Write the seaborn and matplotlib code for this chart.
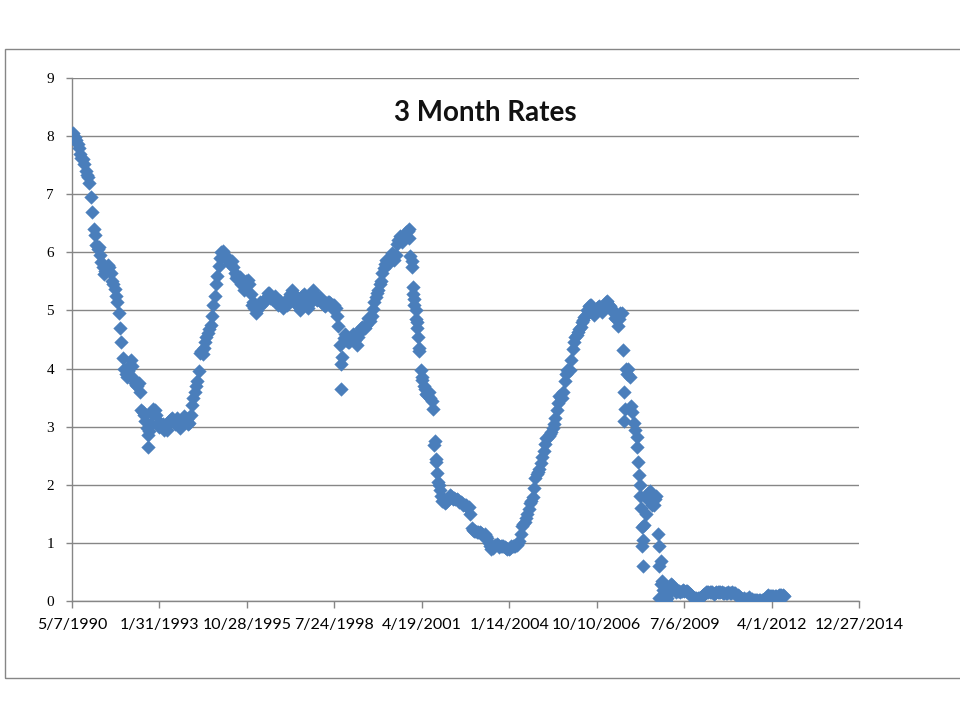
import pandas as pd
import matplotlib
matplotlib.use("Agg")
import matplotlib.pyplot as plt
import seaborn as sns

# 3 month rates, early-month readings (May 1990 - Aug 2012)
r1990 = [8.03, 7.99, 7.87, 7.69, 7.60, 7.40, 7.29, 6.95]
r1991 = [6.41, 6.12, 6.09, 5.83, 5.63, 5.75, 5.75, 5.50, 5.37, 5.14, 4.69, 4.18]
r1992 = [3.91, 3.95, 4.14, 3.84, 3.72, 3.75, 3.28, 3.20, 2.97, 2.93, 3.21, 3.29]
r1993 = [3.07, 3.07, 3.04, 2.99, 3.07, 3.14, 3.11, 3.11, 3.01, 3.09, 3.18, 3.13]
r1994 = [3.06, 3.37, 3.59, 3.78, 4.27, 4.25, 4.46, 4.61, 4.75, 5.10, 5.45, 5.76]
r1995 = [6.00, 5.96, 5.91, 5.84, 5.85, 5.64, 5.59, 5.57, 5.43, 5.44, 5.52, 5.29]
r1996 = [5.15, 4.96, 5.10, 5.09, 5.15, 5.23, 5.30, 5.19, 5.24, 5.12, 5.17, 5.04]
r1997 = [5.17, 5.14, 5.28, 5.30, 5.20, 5.07, 5.19, 5.28, 5.08, 5.11, 5.28, 5.30]
r1998 = [5.18, 5.23, 5.16, 5.08, 5.14, 5.12, 5.09, 5.04, 4.74, 4.07, 4.53, 4.50]
r1999 = [4.45, 4.56, 4.57, 4.41, 4.63, 4.72, 4.69, 4.87, 4.82, 5.02, 5.23, 5.36]
r2000 = [5.50, 5.73, 5.86, 5.82, 5.99, 5.86, 6.14, 6.28, 6.18, 6.29, 6.36, 5.94]
r2001 = [5.29, 5.01, 4.54, 3.97, 3.70, 3.57, 3.59, 3.44, 2.69, 2.20, 1.91, 1.72]
r2002 = [1.68, 1.76, 1.83, 1.75, 1.76, 1.73, 1.71, 1.65, 1.66, 1.61, 1.25, 1.21]
r2003 = [1.19, 1.19, 1.15, 1.15, 1.09, 0.94, 0.92, 0.97, 0.96, 0.94, 0.95, 0.91]
r2004 = [0.90, 0.94, 0.95, 0.96, 1.04, 1.29, 1.36, 1.50, 1.68, 1.79, 2.11, 2.22]
r2005 = [2.37, 2.58, 2.80, 2.84, 2.90, 3.04, 3.29, 3.52, 3.49, 3.79, 3.97, 3.97]
r2006 = [4.34, 4.54, 4.63, 4.72, 4.84, 4.92, 5.08, 5.09, 4.93, 5.05, 5.07, 4.97]
r2007 = [5.11, 5.16, 5.08, 5.01, 4.87, 4.74, 4.96, 4.32, 3.99, 4.00, 3.35, 3.07]
r2008 = [2.82, 2.17, 1.28, 1.31, 1.76, 1.89, 1.66, 1.75, 1.15, 0.69, 0.19, 0.03]
r2009 = [0.13, 0.30, 0.22, 0.16, 0.18, 0.18, 0.18, 0.17, 0.12, 0.07, 0.05, 0.05]
r2010 = [0.06, 0.11, 0.15, 0.16, 0.16, 0.12, 0.16, 0.16, 0.15, 0.13, 0.14, 0.14]
r2011 = [0.15, 0.13, 0.10, 0.06, 0.04, 0.04, 0.04, 0.02, 0.01, 0.02, 0.01, 0.01]
r2012 = [0.03, 0.09, 0.08, 0.08, 0.09, 0.09, 0.10, 0.10]

# late-month readings
m1990 = [8.05, 7.93, 7.80, 7.62, 7.52, 7.33, 7.20, 6.70]
m1991 = [6.30, 6.05, 5.95, 5.75, 5.68, 5.78, 5.65, 5.45, 5.25, 4.95, 4.45, 4.00]
m1992 = [3.85, 4.05, 4.05, 3.75, 3.70, 3.60, 3.25, 3.10, 2.85, 3.05, 3.30, 3.20]
m1993 = [3.00, 3.05, 2.95, 2.95, 3.10, 3.15, 3.05, 3.15, 2.98, 3.12, 3.15, 3.05]
m1994 = [3.20, 3.50, 3.70, 3.95, 4.30, 4.35, 4.55, 4.68, 4.90, 5.25, 5.60, 5.90]
m1995 = [6.02, 5.95, 5.85, 5.80, 5.75, 5.55, 5.55, 5.45, 5.35, 5.50, 5.45, 5.10]
m1996 = [5.05, 5.00, 5.15, 5.12, 5.20, 5.30, 5.22, 5.20, 5.15, 5.10, 5.10, 5.12]
m1997 = [5.10, 5.20, 5.35, 5.25, 5.10, 5.00, 5.25, 5.20, 5.05, 5.15, 5.35, 5.20]
m1998 = [5.20, 5.18, 5.10, 5.12, 5.15, 5.05, 5.10, 4.90, 4.40, 4.20, 4.60, 4.45]
m1999 = [4.50, 4.60, 4.50, 4.55, 4.70, 4.70, 4.75, 4.85, 4.90, 5.15, 5.30, 5.45]
m2000 = [5.65, 5.80, 5.85, 5.90, 5.95, 5.95, 6.22, 6.25, 6.25, 6.35, 6.25, 5.75]
m2001 = [5.10, 4.80, 4.30, 3.85, 3.65, 3.55, 3.50, 3.30, 2.45, 2.05, 1.80, 1.72]
m2002 = [1.70, 1.78, 1.80, 1.78, 1.75, 1.70, 1.68, 1.65, 1.62, 1.50, 1.22, 1.20]
m2003 = [1.18, 1.17, 1.12, 1.12, 1.00, 0.90, 0.95, 0.98, 0.93, 0.95, 0.93, 0.90]
m2004 = [0.92, 0.95, 0.95, 1.00, 1.15, 1.32, 1.42, 1.58, 1.72, 1.95, 2.18, 2.28]
m2005 = [2.48, 2.70, 2.80, 2.88, 2.97, 3.15, 3.40, 3.50, 3.60, 3.90, 3.97, 4.15]
m2006 = [4.45, 4.58, 4.68, 4.80, 4.88, 5.00, 5.10, 5.00, 4.98, 5.06, 5.02, 5.05]
m2007 = [5.15, 5.10, 5.05, 4.95, 4.85, 4.85, 4.95, 3.60, 3.90, 3.85, 3.25, 2.95]
m2008 = [2.40, 1.80, 1.05, 1.50, 1.85, 1.85, 1.65, 1.80, 0.60, 0.35, 0.05, 0.05]
m2009 = [0.25, 0.28, 0.20, 0.17, 0.16, 0.19, 0.18, 0.15, 0.10, 0.06, 0.06, 0.05]
m2010 = [0.09, 0.12, 0.16, 0.15, 0.15, 0.14, 0.15, 0.15, 0.14, 0.13, 0.15, 0.14]
m2011 = [0.14, 0.11, 0.08, 0.05, 0.05, 0.03, 0.07, 0.03, 0.02, 0.01, 0.02, 0.02]
m2012 = [0.05, 0.10, 0.08, 0.09, 0.09, 0.10, 0.11, 0.09]

# extra single weeks (outliers and steep stretches)
extra_dates = ["1992-09-22", "1998-10-09", "2000-11-20", "2001-01-02", "2001-01-05",
               "2001-01-16", "2001-02-16", "2001-03-01", "2001-03-16", "2001-04-16",
               "2001-09-17", "2001-10-01", "2001-11-01", "2007-08-20", "2007-08-27",
               "2008-01-16", "2008-02-16", "2008-03-01", "2008-03-14", "2008-03-19",
               "2008-09-17", "2008-09-24", "2008-10-16", "2008-12-10"]
extra_vals = [2.65, 3.65, 6.40, 5.85, 5.40,
              5.20, 4.85, 4.70, 4.35, 3.80,
              2.75, 2.40, 2.00, 3.10, 3.30,
              2.65, 2.00, 1.60, 0.95, 0.60,
              0.05, 0.95, 0.30, 0.00]

tick_labels = ["5/7/1990", "1/31/1993", "10/28/1995", "7/24/1998", "4/19/2001",
               "1/14/2004", "10/10/2006", "7/6/2009", "4/1/2012", "12/27/2014"]
tick_dates = ["1990-05-07", "1993-01-31", "1995-10-28", "1998-07-24", "2001-04-19",
              "2004-01-14", "2006-10-10", "2009-07-06", "2012-04-01", "2014-12-27"]

early = (r1990 + r1991 + r1992 + r1993 + r1994 + r1995 + r1996 + r1997 + r1998
         + r1999 + r2000 + r2001 + r2002 + r2003 + r2004 + r2005 + r2006 + r2007
         + r2008 + r2009 + r2010 + r2011 + r2012)
late = (m1990 + m1991 + m1992 + m1993 + m1994 + m1995 + m1996 + m1997 + m1998
        + m1999 + m2000 + m2001 + m2002 + m2003 + m2004 + m2005 + m2006 + m2007
        + m2008 + m2009 + m2010 + m2011 + m2012)
month_start = pd.date_range("1990-05-01", periods=len(early), freq="MS")

df = pd.DataFrame({
    "date": list(month_start + pd.Timedelta(days=8)) + list(month_start + pd.Timedelta(days=22))
            + list(pd.to_datetime(extra_dates)),
    "rate": early + late + extra_vals,
})

sns.set_style("white")
blue = "#4A7EBB"
grey = "#868686"

fig = plt.figure(figsize=(9.6, 7.2), dpi=100)
ax = fig.add_axes([72 / 960, 1 - 601 / 720, 787 / 960, 523 / 720])

sns.scatterplot(data=df, x="date", y="rate", marker="D", s=48, color=blue,
                edgecolor=blue, linewidth=0.3, ax=ax, legend=False, zorder=3)

ticks = pd.to_datetime(tick_dates)
ax.set_xlim(ticks[0], ticks[-1])
ax.set_xticks(ticks)
ax.set_xticklabels(tick_labels, family="Lato", fontsize=11.5, color="#000000")
ax.set_ylim(0, 9)
ax.set_yticks(range(0, 10))
ax.set_yticklabels([str(i) for i in range(0, 10)], family="Liberation Serif",
                   fontsize=11, color="#000000")

ax.yaxis.grid(True, color=grey, linewidth=1)
ax.xaxis.grid(False)
ax.set_axisbelow(True)
for side in ["top", "right"]:
    ax.spines[side].set_visible(False)
for side in ["left", "bottom"]:
    ax.spines[side].set_color(grey)
    ax.spines[side].set_linewidth(1)
ax.tick_params(axis="y", left=True, length=4, width=1, color=grey, pad=9)
ax.tick_params(axis="x", bottom=True, length=5, width=1, color=grey, pad=7)
ax.set_xlabel("")
ax.set_ylabel("")

ax.text(0.525, 0.933, "3 Month Rates", transform=ax.transAxes, ha="center",
        va="center", family="Lato", fontweight="bold", fontsize=20, color="#111111")

# outer chart frame
fig.add_artist(plt.Rectangle((5 / 960, 1 - 678 / 720), 1.2, 629 / 720,
                             transform=fig.transFigure, fill=False,
                             edgecolor=grey, linewidth=1))

fig.savefig("out.png", dpi=100, facecolor="white")
